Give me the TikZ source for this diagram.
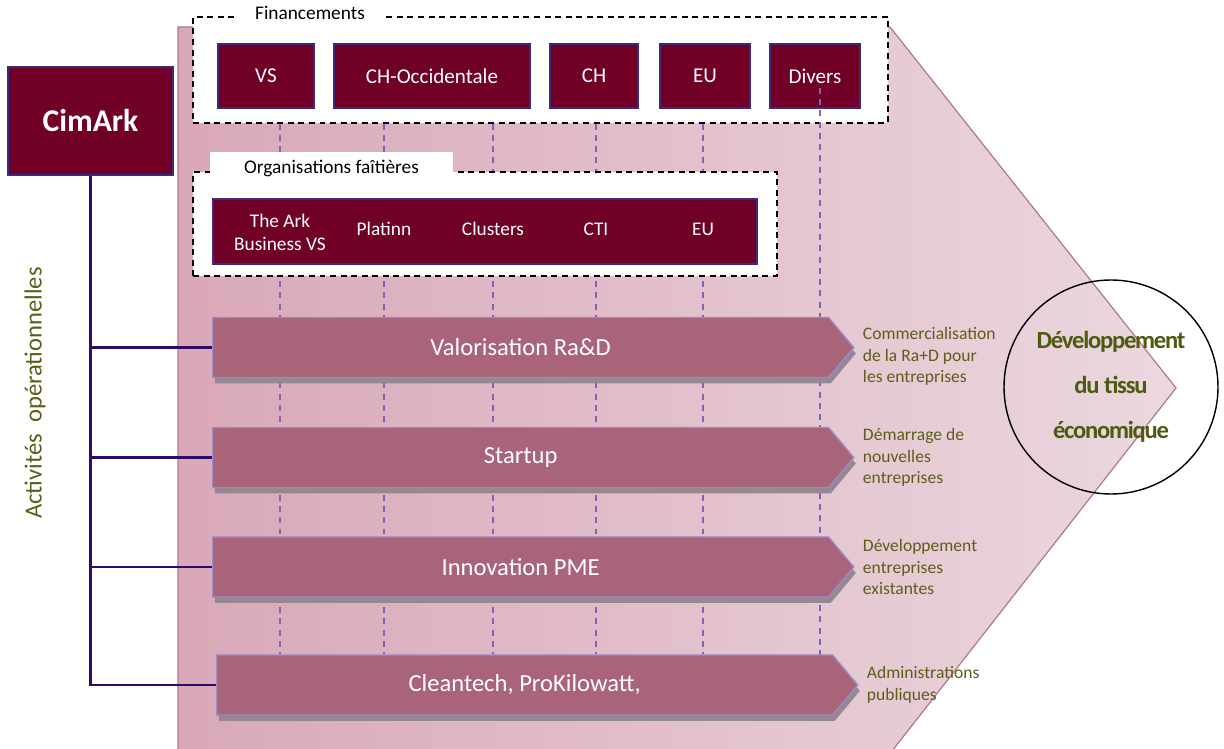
\documentclass[tikz,border=0pt]{standalone}
\usepackage{fontspec}
\setmainfont{Carlito}
\usetikzlibrary{positioning,shapes.symbols,shadows,backgrounds}

\definecolor{bordeaux}{HTML}{700028}
\definecolor{cadre}{HTML}{3A2A80}
\definecolor{actFill}{HTML}{A9647A}
\definecolor{actBord}{HTML}{9C88C8}
\definecolor{ombre}{HTML}{968890}
\definecolor{tronc}{HTML}{2E0B6A}
\definecolor{violetPt}{HTML}{8462B2}
\definecolor{olive}{HTML}{5C5E1A}
\definecolor{oliveFonce}{HTML}{4E5A0E}
\definecolor{fondG}{HTML}{D9A8B8}
\definecolor{fondD}{HTML}{EBD8DF}
\definecolor{fondBord}{HTML}{B27890}

\newcommand{\pxu}{0.02cm}

\begin{document}
\begin{tikzpicture}[
    x=0.02cm, y=-0.02cm,
    % styles des boites
    boite/.style={fill=bordeaux, draw=cadre, line width=0.6pt, text=white, inner sep=0pt},
    finbox/.style={boite, minimum height=64*\pxu, font=\fontsize{12}{14}\selectfont},
    cadrept/.style={draw=black, dash pattern=on 3.4pt off 2.6pt, line width=0.8pt, fill=white},
    etiquette/.style={fill=white, inner sep=0pt, font=\fontsize{11}{13}\selectfont},
    orgtxt/.style={text=white, align=center, font=\fontsize{11}{13}\selectfont},
    activite/.style={signal, signal to=east, signal pointer angle=100, fill=actFill,
        draw=actBord, line width=0.8pt, minimum width=641*\pxu, minimum height=60*\pxu,
        text=white, font=\fontsize{14}{16}\selectfont, anchor=west, inner sep=0pt,
        drop shadow={shadow xshift=1.2pt, shadow yshift=-3.4pt, fill=ombre, opacity=1}},
    desc/.style={text=olive, align=left, anchor=west, inner sep=0pt, font=\fontsize{10}{12.2}\selectfont},
    pointille/.style={draw=violetPt, line width=0.7pt, dash pattern=on 3.4pt off 3pt},
    branche/.style={draw=tronc, line width=1.2pt}
]
    \useasboundingbox (0,0) rectangle (1224,749);

    % --- CimArk ---
    \node[boite, minimum width=165*\pxu, minimum height=108*\pxu,
          font=\fontsize{18}{20}\selectfont\bfseries] (cim) at (90.5,121) {CimArk};
    \node[rotate=90, text=olive, font=\fontsize{14}{16}\selectfont] (actop) at (35,393)
        {Activités~ opérationnelles};

    % --- Financements ---
    \node[cadrept, minimum width=695*\pxu, minimum height=106*\pxu] (fin) at (540.5,70) {};
    \node[etiquette, minimum width=150*\pxu, minimum height=18*\pxu] (finlab) at (310,13) {Financements};
    \node[finbox, minimum width=96*\pxu] (vs) at (266,76) {VS};
    \node[finbox, minimum width=196*\pxu] (cho) at (432,76) {CH-Occidentale};
    \node[finbox, minimum width=88*\pxu] (ch) at (594,76) {CH};
    \node[finbox, minimum width=90*\pxu] (eu) at (705,76) {EU};
    \node[finbox, minimum width=90*\pxu] (div) at (815,76) {Divers};

    % --- Organisations faitieres ---
    \node[cadrept, minimum width=584*\pxu, minimum height=104*\pxu] (org) at (485,224) {};
    \node[etiquette, minimum width=243*\pxu, minimum height=32*\pxu] (orglab) at (331.5,168)
        {Organisations faîtières};
    \node[boite, minimum width=544*\pxu, minimum height=65*\pxu] (orgbar) at (485,231.5) {};
    \node[orgtxt] (o1) at (280,232) {The Ark\\Business VS};
    \node[orgtxt] (o2) at (384,229) {Platinn};
    \node[orgtxt] (o3) at (493,229) {Clusters};
    \node[orgtxt] (o4) at (596,229) {CTI};
    \node[orgtxt] (o5) at (703,229) {EU};

    % ligne de Divers (au-dessus du cadre)
    \coordinate (divhaut) at ([shift={(5,12)}]div.center);
    \coordinate (divbas) at (820,655);
    \draw[pointille] (divhaut) -- (divbas);

    % --- Activites ---
    \node[activite] (act1) at (212,347.5) {Valorisation Ra\&D};
    \node[activite] (act2) at (212,457.5) {Startup};
    \node[activite] (act3) at (212,567) {Innovation PME};
    \node[activite] (act4) at (216,685) {Cleantech, ProKilowatt,};

    \node[desc, right=0.16cm of act1, yshift=-0.18cm] (d1)
        {Commercialisation\\de la Ra+D pour\\les entreprises};
    \node[desc, right=0.16cm of act2] (d2) {Démarrage de\\nouvelles\\entreprises};
    \node[desc, right=0.16cm of act3] (d3) {Développement\\entreprises\\existantes};
    \node[desc, right=0.16cm of act4] (d4) {Administrations\\publiques};

    % --- Cercle ---
    \node[circle, draw=black, line width=0.8pt, minimum size=214*\pxu, align=center,
          text=oliveFonce, font=\fontsize{14}{25.5}\selectfont\bfseries\addfontfeature{LetterSpace=-5}]
        (dev) at (1111,387) {Développement\\du tissu\\économique};

    % --- Tronc ---
    \draw[branche] (cim.south) |- (act4.west);
    \foreach \a in {act1,act2,act3}
        \draw[branche] (cim.south |- \a.west) -- (\a.west);

    % --- Fond ---
    \begin{pgfonlayer}{background}
        \draw[fondBord, line width=0.7pt, left color=fondG, right color=fondD]
            (178,760) -- (178,27) -- (890,27) -- (1176,388) -- (885,760) -- cycle;
        \foreach \o in {o1,o2,o3,o4,o5}
            \draw[pointille] (\o |- fin.south) -- (\o |- act4.north);
    \end{pgfonlayer}
\end{tikzpicture}
\end{document}
